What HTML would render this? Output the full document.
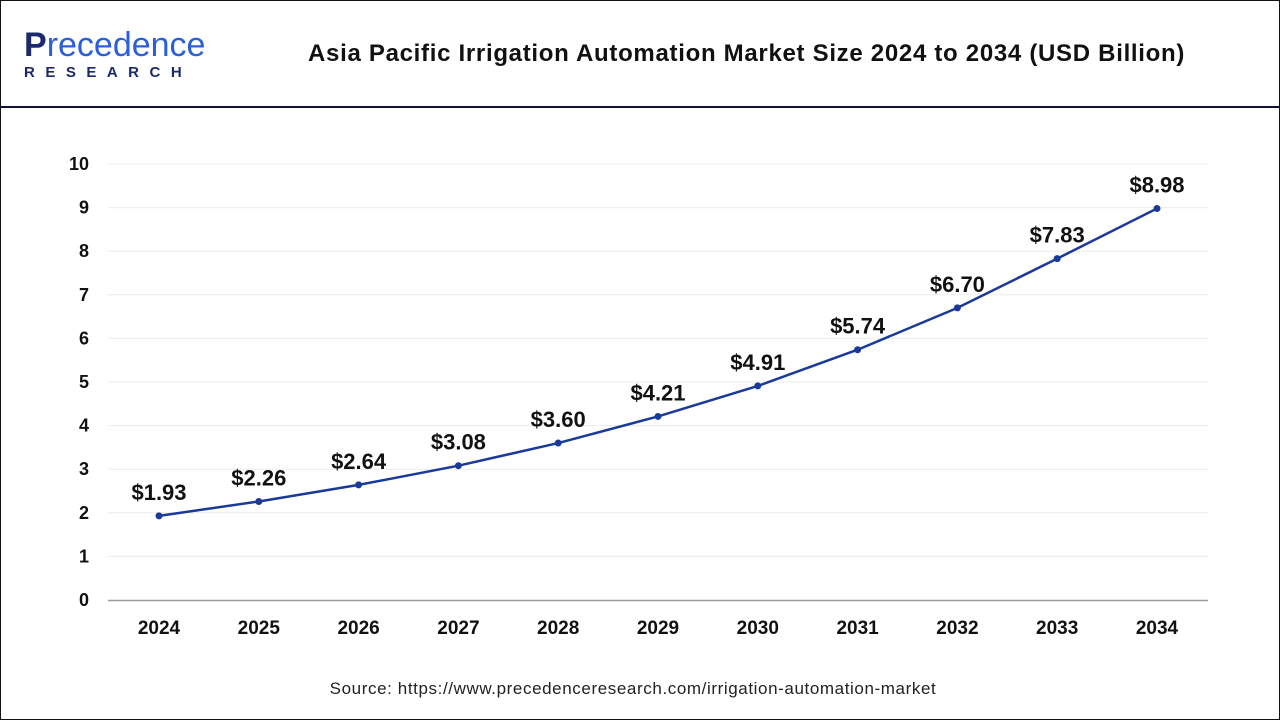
<!DOCTYPE html>
<html><head><meta charset="utf-8"><style>
body{margin:0;width:1280px;height:720px;overflow:hidden;background:#fff;font-family:"Liberation Sans",sans-serif}
#frame{position:absolute;left:0;top:0;width:1278px;height:718px;border:1px solid #111}
#hdr{position:absolute;left:0;top:0;width:1280px;height:106px;border-bottom:2px solid #111133}
</style></head><body>
<div id="frame"></div>
<div id="hdr">
 <div style="position:absolute;left:24px;top:28px">
  <div style="font-size:34px;font-weight:bold;color:#1c2a6b;line-height:34px">P<span style="color:#2a5fd8;font-weight:normal">recedence</span></div>
  <div style="font-size:15px;font-weight:bold;color:#1c2a6b;letter-spacing:10.5px;margin-top:2px">RESEARCH</div>
 </div>
 <div style="position:absolute;left:308px;top:40px;font-size:24px;letter-spacing:0.7px;font-weight:bold;color:#111;white-space:nowrap">Asia Pacific Irrigation Automation Market Size 2024 to 2034 (USD Billion)</div>
</div>
<svg id="chart" width="1280" height="720" style="position:absolute;left:0;top:0"></svg>
<div style="position:absolute;left:0;width:1266px;top:679px;text-align:center;font-size:17px;letter-spacing:0.6px;color:#222">Source: https://www.precedenceresearch.com/irrigation-automation-market</div>
<script>
const years=["2024","2025","2026","2027","2028","2029","2030","2031","2032","2033","2034"];
const values=[1.93,2.26,2.64,3.08,3.60,4.21,4.91,5.74,6.70,7.83,8.98];
const valueLabels=["$1.93","$2.26","$2.64","$3.08","$3.60","$4.21","$4.91","$5.74","$6.70","$7.83","$8.98"];
const yTicks=[0,1,2,3,4,5,6,7,8,9,10];
const NS="http://www.w3.org/2000/svg",svg=document.getElementById('chart');
const x=i=>159+i*99.8, y=v=>600-v*43.6;
function mk(t,a,txt){const e=document.createElementNS(NS,t);for(const k in a)e.setAttribute(k,a[k]);if(txt!=null)e.textContent=txt;svg.appendChild(e);return e;}
yTicks.forEach(t=>{
 if(t>0){const g=mk('line',{x1:108,x2:1208,y1:y(t),y2:y(t),stroke:'#ececec','stroke-width':1});
 }
 const l=mk('text',{x:89,y:y(t)+6,'text-anchor':'end','font-size':18,'font-weight':'bold',fill:'#111'},t);
 
});
const ax=mk('line',{x1:108,x2:1208,y1:600.5,y2:600.5,stroke:'#999','stroke-width':1.5});

years.forEach((yr,i)=>{const l=mk('text',{x:x(i),y:634,'text-anchor':'middle','font-size':19,'font-weight':'bold',fill:'#111'},yr);
 });
const ln=mk('polyline',{points:values.map((v,i)=>x(i)+','+y(v)).join(' '),fill:'none',stroke:'#1a3a9a','stroke-width':2.5});

values.forEach((v,i)=>{
 const c=mk('circle',{cx:x(i),cy:y(v),r:3.5,fill:'#1a3a9a'});
 
 const t=mk('text',{x:x(i),y:y(v)-16,'text-anchor':'middle','font-size':22,'font-weight':'bold',fill:'#111'},valueLabels[i]);
 
});
</script>
</body></html>
